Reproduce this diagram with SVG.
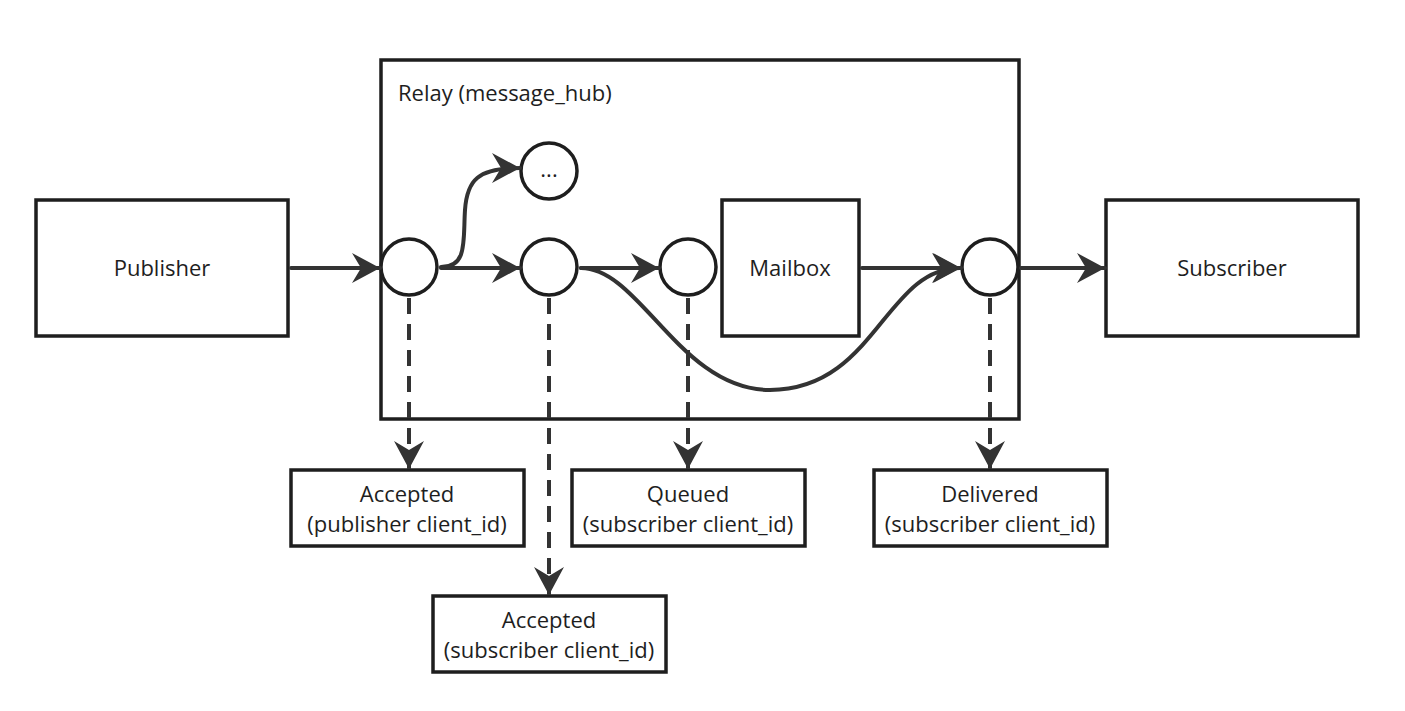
<svg xmlns="http://www.w3.org/2000/svg" width="1405" height="711" viewBox="0 0 1405 711">
<defs>
<style>
.box{fill:#fff;stroke:#1e1e1e;stroke-width:3.5}
.c{fill:#fff;stroke:#1e1e1e;stroke-width:3.5}
.t{font-family:"Open Sans","Noto Sans",sans-serif;font-size:22px;fill:#1e1e1e;text-anchor:middle}
.ln{fill:none;stroke:#333;stroke-width:4;stroke-linecap:round}
.dash{stroke-dasharray:16 10;stroke-linecap:butt}
</style>
<marker id="ah" markerUnits="userSpaceOnUse" markerWidth="32" markerHeight="32" refX="28" refY="15" orient="auto" viewBox="0 0 32 32">
<path d="M0,0 L28,15 L0,30 L9,15 Z" fill="#333" stroke="none"/>
</marker>
</defs>
<rect width="1405" height="711" fill="#fff"/>
<g id="relay">
<rect class="box" x="381" y="60" width="638" height="359"/>
<text class="t" x="398" y="101" style="text-anchor:start">Relay (message_hub)</text>
</g>
<g id="publisher">
<rect class="box" x="36" y="200" width="252" height="136"/>
<text class="t" x="162" y="276">Publisher</text>
</g>
<g id="subscriber">
<rect class="box" x="1106" y="200" width="252" height="136"/>
<text class="t" x="1232" y="276">Subscriber</text>
</g>
<g id="mailbox">
<rect class="box" x="722" y="200" width="137" height="136"/>
<text class="t" x="790" y="276">Mailbox</text>
</g>
<g id="n1"><circle class="c" cx="409" cy="267" r="28"/></g>
<g id="n2"><circle class="c" cx="549" cy="267" r="28"/></g>
<g id="n3"><circle class="c" cx="688" cy="267" r="28"/></g>
<g id="n4"><circle class="c" cx="990" cy="267" r="28"/></g>
<g id="more"><circle class="c" cx="549" cy="171" r="28"/><text class="t" x="549" y="177">...</text></g>
<g id="acc-pub">
<rect class="box" x="291" y="470" width="233" height="76"/>
<text class="t" x="407" y="502">Accepted</text>
<text class="t" x="407" y="532">(publisher client_id)</text>
</g>
<g id="queued">
<rect class="box" x="572" y="470" width="233" height="76"/>
<text class="t" x="688" y="502">Queued</text>
<text class="t" x="688" y="532">(subscriber client_id)</text>
</g>
<g id="delivered">
<rect class="box" x="874" y="470" width="233" height="76"/>
<text class="t" x="990" y="502">Delivered</text>
<text class="t" x="990" y="532">(subscriber client_id)</text>
</g>
<g id="acc-sub">
<rect class="box" x="433" y="596" width="233" height="76"/>
<text class="t" x="549" y="628">Accepted</text>
<text class="t" x="549" y="658">(subscriber client_id)</text>
</g>
<g id="connectors">
<path class="ln" d="M291,268 L380,268" marker-end="url(#ah)"/>
<path class="ln" d="M441,268 L520,268" marker-end="url(#ah)"/>
<path class="ln" d="M441,267 C468,267 463,240 465,210 C467,180 478,168 520,168" marker-end="url(#ah)"/>
<path class="ln" d="M581,268 L659,268" marker-end="url(#ah)"/>
<path class="ln" d="M581,268 C640,268 680,390 770,390 C875,390 885,268 960,268" marker-end="url(#ah)"/>
<path class="ln" d="M862,268 L961,268" marker-end="url(#ah)"/>
<path class="ln" d="M1021,268 L1105,268" marker-end="url(#ah)"/>
<path class="ln dash" d="M409,298 L409,469" marker-end="url(#ah)"/>
<path class="ln dash" d="M549,298 L549,595" marker-end="url(#ah)"/>
<path class="ln dash" d="M688,298 L688,469" marker-end="url(#ah)"/>
<path class="ln dash" d="M990,298 L990,469" marker-end="url(#ah)"/>
</g>
</svg>
